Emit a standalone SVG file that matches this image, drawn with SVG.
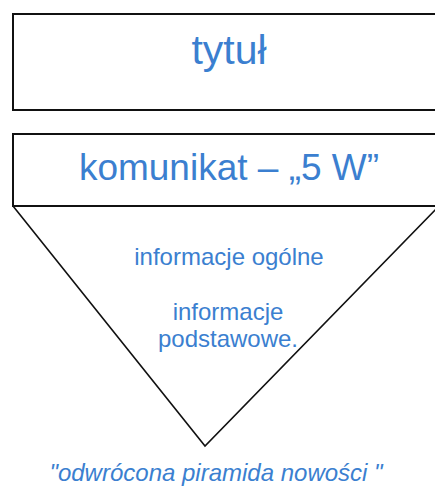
<svg xmlns="http://www.w3.org/2000/svg" width="435" height="487" viewBox="0 0 435 487">
  <style>
    .box { fill: #ffffff; stroke: #111111; stroke-width: 2; }
    .tri { fill: #ffffff; stroke: #111111; stroke-width: 1.6; stroke-linejoin: miter; }
    .t { font-family: "Liberation Sans", Arial, sans-serif; fill: #3B7FD0; text-anchor: middle; }
  </style>
  <rect width="435" height="487" fill="#ffffff"/>
  <g id="connectors"></g>
  <g id="pyramid">
    <path class="tri" d="M13,206 L205,446 L442,203"/>
    <text class="t" x="229" y="265" font-size="24">informacje ogólne</text>
    <text class="t" x="228" y="320" font-size="24">informacje</text>
    <text class="t" x="228" y="347" font-size="24">podstawowe.</text>
  </g>
  <g id="title">
    <rect class="box" x="13" y="14" width="440" height="96"/>
    <text class="t" x="229" y="64" font-size="41">tytuł</text>
  </g>
  <g id="message">
    <rect class="box" x="13" y="134" width="440" height="72"/>
    <text class="t" x="229" y="180" font-size="37">komunikat – „5 W”</text>
  </g>
  <g id="caption">
    <text class="t" x="216" y="481" font-size="24" font-style="italic">"odwrócona piramida nowości "</text>
  </g>
</svg>
